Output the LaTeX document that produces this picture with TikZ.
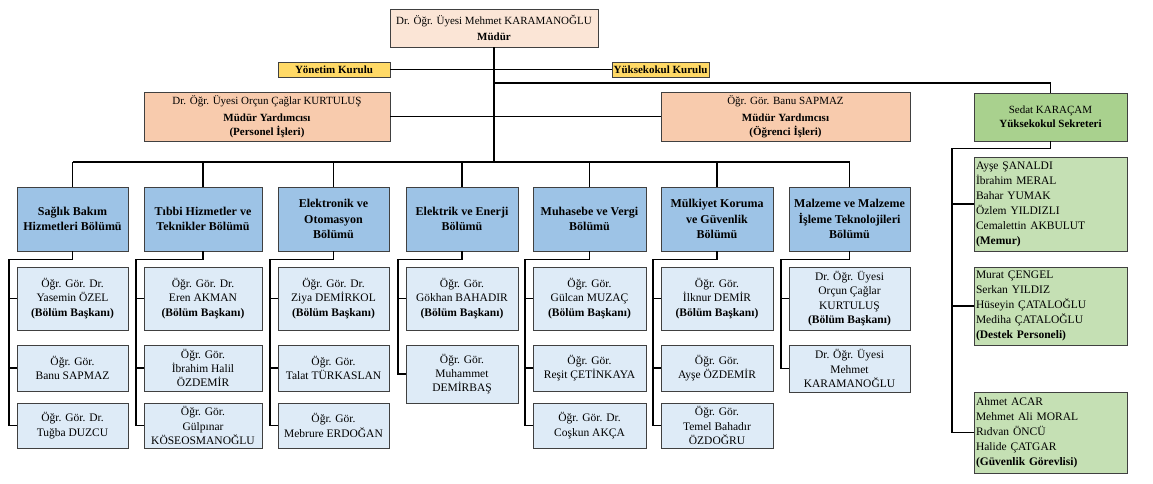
\documentclass[tikz,border=0pt]{standalone}
\usepackage{fontspec}
\setmainfont{Liberation Serif}

\definecolor{mudurfill}{HTML}{FBE5D6}
\definecolor{kurulfill}{HTML}{FFD966}
\definecolor{yardfill}{HTML}{F8CBAD}
\definecolor{bolumfill}{HTML}{9DC3E6}
\definecolor{hocafill}{HTML}{DEEBF7}
\definecolor{sekfill}{HTML}{A9D18E}
\definecolor{personelfill}{HTML}{C5E0B4}

\begin{document}
\begin{tikzpicture}
  [
    x=1pt, y=-1pt,
    box/.style={
      draw=black!75,
      line width=.8pt,
      align=center,
      inner sep=1pt,
      font=\fontsize{11}{14}\selectfont
    },
    mudurbox/.style={
      box,
      fill=mudurfill,
      minimum width=208pt,
      minimum height=38pt
    },
    kurul/.style={
      box,
      fill=kurulfill,
      font=\fontsize{11}{13}\selectfont\bfseries,
      minimum height=15pt
    },
    yard/.style={
      box,
      fill=yardfill,
      minimum height=49pt
    },
    bolum/.style={
      box,
      fill=bolumfill,
      font=\fontsize{12}{15.5}\selectfont\bfseries,
      minimum height=64pt
    },
    hoca/.style={
      box,
      fill=hocafill,
      font=\fontsize{11.5}{14.3}\selectfont
    },
    sekreter/.style={
      box,
      fill=sekfill,
      minimum width=153pt,
      minimum height=48pt
    },
    personel/.style={
      box,
      fill=personelfill,
      align=left,
      inner sep=2pt,
      text width=149pt,
      font=\fontsize{11.5}{15}\selectfont
    },
    link/.style={
      line width=1.8pt,
      black
    }
  ]
  \useasboundingbox (0,0) rectangle (1153,484);

  % management
  \node [mudurbox] (mudur) at (494,28) {Dr. Öğr. Üyesi Mehmet KARAMANOĞLU\\[2pt]\textbf{Müdür}};
  \node [kurul, minimum width=112pt] (ykurul) at (334,69.5) {Yönetim Kurulu};
  \node [kurul, minimum width=97pt] (yokurul) at (660.5,69.5) {Yüksekokul Kurulu};
  \node [yard, minimum width=246pt] (yardP) at (267,116.5)
    {Dr. Öğr. Üyesi Orçun Çağlar KURTULUŞ\\[3pt]\textbf{Müdür Yardımcısı}\\\textbf{(Personel İşleri)}};
  \node [yard, minimum width=249pt] (yardO) at (785.5,116.5)
    {Öğr. Gör. Banu SAPMAZ\\[3pt]\textbf{Müdür Yardımcısı}\\\textbf{(Öğrenci İşleri)}};
  \node [sekreter] (sek) at (1050.5,117) {Sedat KARAÇAM\\\textbf{Yüksekokul Sekreteri}};

  % departments
  \node [bolum, minimum width=111pt] (d1) at (72.5,219) {Sağlık Bakım\\Hizmetleri Bölümü};
  \node [bolum, minimum width=118pt] (d2) at (203,219) {Tıbbi Hizmetler ve\\Teknikler Bölümü};
  \node [bolum, minimum width=111pt] (d3) at (333.5,219) {Elektronik ve\\Otomasyon\\Bölümü};
  \node [bolum, minimum width=112pt] (d4) at (462,219) {Elektrik ve Enerji\\Bölümü};
  \node [bolum, minimum width=113pt] (d5) at (589.5,219) {Muhasebe ve Vergi\\Bölümü};
  \node [bolum, minimum width=112pt] (d6) at (717,219) {Mülkiyet Koruma\\ve Güvenlik\\Bölümü};
  \node [bolum, minimum width=121pt] (d7) at (849.5,219) {Malzeme ve Malzeme\\İşleme Teknolojileri\\Bölümü};

  % staff of the departments
  \node [hoca, minimum width=111pt, minimum height=63pt] (s11) at (72.5,298.5) {Öğr. Gör. Dr.\\Yasemin ÖZEL\\\textbf{(Bölüm Başkanı)}};
  \node [hoca, minimum width=111pt, minimum height=46pt] (s12) at (72.5,368) {Öğr. Gör.\\Banu SAPMAZ};
  \node [hoca, minimum width=111pt, minimum height=45pt] (s13) at (72.5,425.5) {Öğr. Gör. Dr.\\Tuğba DUZCU};

  \node [hoca, minimum width=118pt, minimum height=63pt] (s21) at (203,298.5) {Öğr. Gör. Dr.\\Eren AKMAN\\\textbf{(Bölüm Başkanı)}};
  \node [hoca, minimum width=118pt, minimum height=46pt] (s22) at (203,368) {Öğr. Gör.\\İbrahim Halil\\ÖZDEMİR};
  \node [hoca, minimum width=118pt, minimum height=45pt] (s23) at (203,425.5) {Öğr. Gör.\\Gülpınar\\KÖSEOSMANOĞLU};

  \node [hoca, minimum width=111pt, minimum height=63pt] (s31) at (333.5,298.5) {Öğr. Gör. Dr.\\Ziya DEMİRKOL\\\textbf{(Bölüm Başkanı)}};
  \node [hoca, minimum width=111pt, minimum height=46pt] (s32) at (333.5,368) {Öğr. Gör.\\Talat TÜRKASLAN};
  \node [hoca, minimum width=111pt, minimum height=45pt] (s33) at (333.5,425.5) {Öğr. Gör.\\Mebrure ERDOĞAN};

  \node [hoca, minimum width=112pt, minimum height=63pt] (s41) at (462,298.5) {Öğr. Gör.\\Gökhan BAHADIR\\\textbf{(Bölüm Başkanı)}};
  \node [hoca, minimum width=112pt, minimum height=58pt] (s42) at (462,374) {Öğr. Gör.\\Muhammet\\DEMİRBAŞ};

  \node [hoca, minimum width=113pt, minimum height=63pt] (s51) at (589.5,298.5) {Öğr. Gör.\\Gülcan MUZAÇ\\\textbf{(Bölüm Başkanı)}};
  \node [hoca, minimum width=113pt, minimum height=46pt] (s52) at (589.5,368) {Öğr. Gör.\\Reşit ÇETİNKAYA};
  \node [hoca, minimum width=113pt, minimum height=45pt] (s53) at (589.5,425.5) {Öğr. Gör. Dr.\\Coşkun AKÇA};

  \node [hoca, minimum width=112pt, minimum height=63pt] (s61) at (717,298.5) {Öğr. Gör.\\İlknur DEMİR\\\textbf{(Bölüm Başkanı)}};
  \node [hoca, minimum width=112pt, minimum height=46pt] (s62) at (717,368) {Öğr. Gör.\\Ayşe ÖZDEMİR};
  \node [hoca, minimum width=112pt, minimum height=45pt] (s63) at (717,425.5) {Öğr. Gör.\\Temel Bahadır\\ÖZDOĞRU};

  \node [hoca, minimum width=121pt, minimum height=63pt] (s71) at (849.5,298.5) {Dr. Öğr. Üyesi\\Orçun Çağlar\\KURTULUŞ\\\textbf{(Bölüm Başkanı)}};
  \node [hoca, minimum width=121pt, minimum height=47pt] (s72) at (849.5,368.5) {Dr. Öğr. Üyesi\\Mehmet\\KARAMANOĞLU};

  % staff of the secretary
  \node [personel, minimum height=94pt] (m1) at (1050.5,204)
    {Ayşe ŞANALDI\\İbrahim MERAL\\Bahar YUMAK\\Özlem YILDIZLI\\Cemalettin AKBULUT\\\textbf{(Memur)}};
  \node [personel, minimum height=78pt] (m2) at (1050.5,306)
    {Murat ÇENGEL\\Serkan YILDIZ\\Hüseyin ÇATALOĞLU\\Mediha ÇATALOĞLU\\\textbf{(Destek Personeli)}};
  \node [personel, minimum height=81pt] (m3) at (1050.5,432.5)
    {Ahmet ACAR\\Mehmet Ali MORAL\\Rıdvan ÖNCÜ\\Halide ÇATGAR\\\textbf{(Güvenlik Görevlisi)}};

  % connectors
  \coordinate (sekbus) at (0,83);
  \coordinate (bolumbus) at (0,162);

  \draw [link] (mudur.south) -- (mudur.south |- bolumbus);
  \draw [link] (ykurul.east) -- (yokurul.west);
  \draw [link] (yardP.east) -- (yardO.west);
  \draw [link] (mudur.south |- sekbus) -| (sek.north);

  \draw [link] (d1.north |- bolumbus) -- (d7.north |- bolumbus);
  \foreach \c in {1,...,7}
    \draw [link] (d\c.north) -- (d\c.north |- bolumbus);

  \foreach \c/\last in {1/3,2/3,3/3,4/2,5/3,6/3,7/2} {
    \draw [link] (d\c.south) -- ++(0,8) -| ([xshift=-8pt]s\c\last.west) -- (s\c\last.west);
    \foreach \r in {1,...,\last}
      \draw [link] ([xshift=-8pt]s\c\r.west) -- (s\c\r.west);
  }

  \draw [link] (sek.south) -- ++(0,7) -| ([xshift=-22pt]m3.west) -- (m3.west);
  \foreach \m in {m1,m2}
    \draw [link] ([xshift=-22pt]\m.west) -- (\m.west);
\end{tikzpicture}
\end{document}
